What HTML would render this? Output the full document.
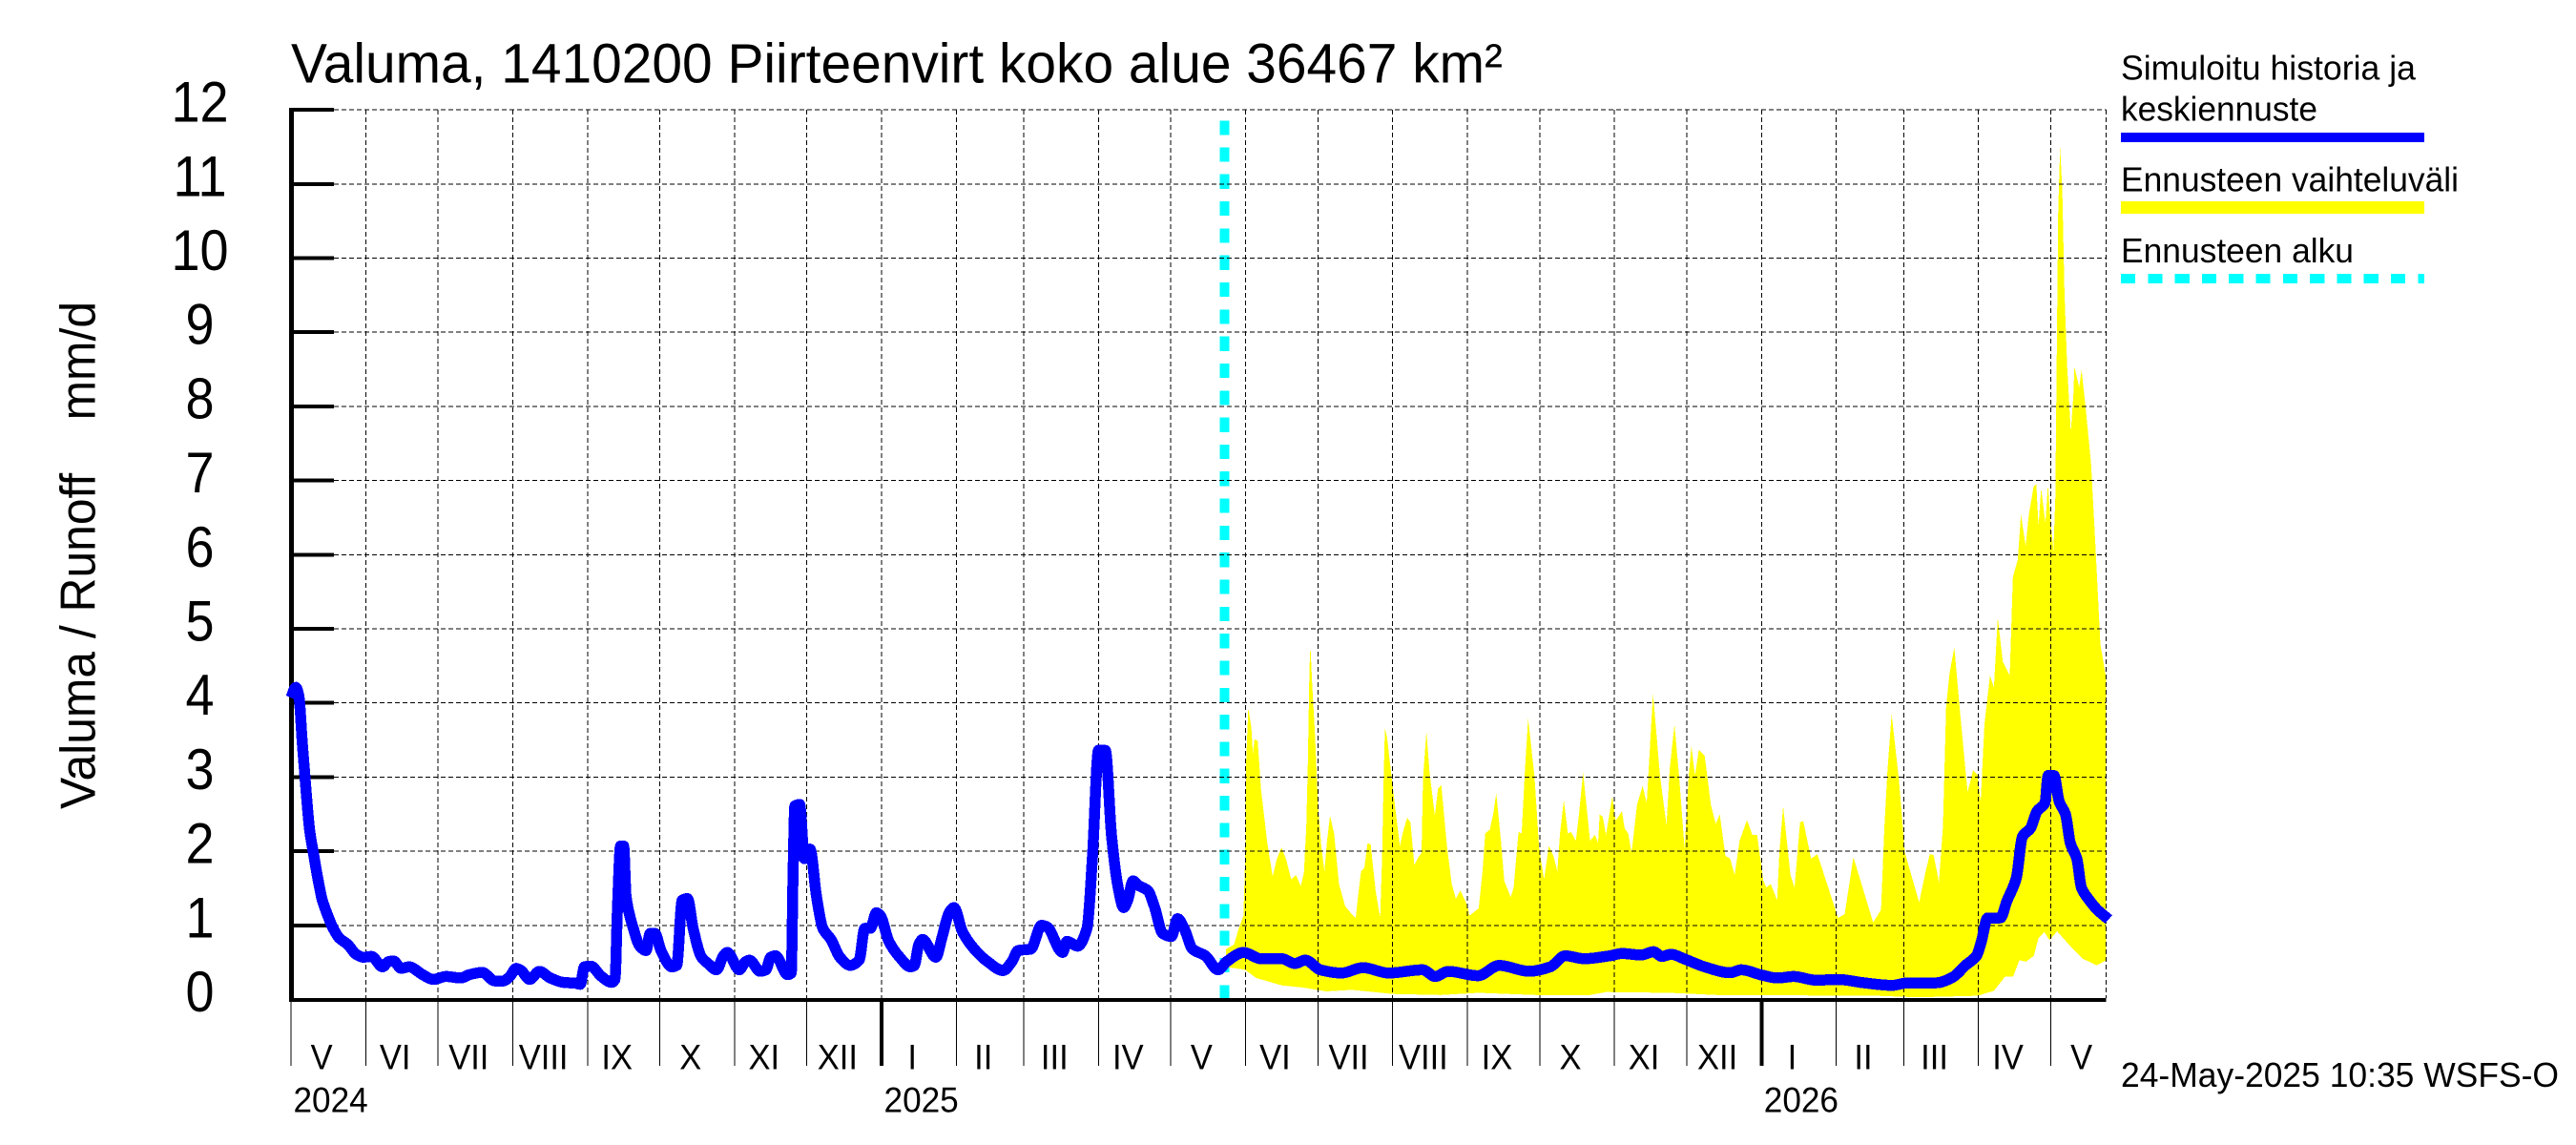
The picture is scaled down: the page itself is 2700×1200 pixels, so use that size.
<!DOCTYPE html>
<html lang="fi">
<head>
<meta charset="utf-8">
<title>Valuma 1410200</title>
<style>
html,body{margin:0;padding:0;background:#fff;width:2700px;height:1200px;overflow:hidden}
svg{display:block}
text{font-family:"Liberation Sans",Arial,sans-serif;fill:#000;white-space:pre}
</style>
</head>
<body>
<svg id="chart" xmlns="http://www.w3.org/2000/svg" width="2700" height="1200" viewBox="0 0 2700 1200">
  <rect x="0" y="0" width="2700" height="1200" fill="#fff"/>
  <text x="305" y="86.7" font-size="58.5" textLength="1270" lengthAdjust="spacingAndGlyphs">Valuma, 1410200 Piirteenvirt koko alue 36467 km²</text>
  <text transform="translate(99.5,848) rotate(-90)" font-size="52" textLength="532" lengthAdjust="spacingAndGlyphs">Valuma / Runoff    mm/d</text>
  <g id="forecast-start-layer"></g>
  <g id="band-layer"></g>
  <g id="grid-layer"></g>
  <g id="axis-layer"></g>
  <g id="line-layer"></g>
  <g>
    <text x="2223" y="83.3" font-size="36.5" textLength="309" lengthAdjust="spacingAndGlyphs">Simuloitu historia ja</text>
    <text x="2223" y="126.7" font-size="36.5" textLength="206" lengthAdjust="spacingAndGlyphs">keskiennuste</text>
    <rect x="2223" y="139" width="318" height="10" fill="#0000ff"/>
    <text x="2223" y="200.7" font-size="36.5" textLength="354" lengthAdjust="spacingAndGlyphs">Ennusteen vaihteluväli</text>
    <rect x="2223" y="211" width="318" height="13" fill="#ffff00"/>
    <text x="2223" y="275" font-size="36.5" textLength="244" lengthAdjust="spacingAndGlyphs">Ennusteen alku</text>
    <line x1="2223" y1="292" x2="2541" y2="292" stroke="#00ffff" stroke-width="10" stroke-dasharray="15.2 13.1" shape-rendering="crispEdges"/>
  </g>
  <text x="2223" y="1139" font-size="36.5" textLength="459" lengthAdjust="spacingAndGlyphs">24-May-2025 10:35 WSFS-O</text>
</svg>
<script>
// ---- chart data (days are counted from 1 May 2024, values in mm/d) ----
const yTickValues = [0,1,2,3,4,5,6,7,8,9,10,11,12];
const monthLabels = ['V','VI','VII','VIII','IX','X','XI','XII','I','II','III','IV','V','VI','VII','VIII','IX','X','XI','XII','I','II','III','IV','V'];
const monthLengths = [31,30,31,31,30,31,30,31,31,28,31,30,31,30,31,31,30,31,30,31,31,28,31,30,31];
const yearLabels = ['2024','2025','2026'];
const yearStartDays = [0,245,610];
const axisEndDay = 753;
const forecastStartDay = 387;

const historyDays = [0,2,3.3,4.7,6.3,7.7,9.5,11.3,13,14.8,17.5,20,23.6,27,30,33.4,38,40.4,42.5,45.7,49,54.6,59,64.3,70.5,74,79.3,84.6,88,90.8,93.4,95.5,99,103,107.6,113,118,120,121.7,124.3,128.8,133,134.4,135.5,136.7,138,139,142,144.7,147.3,149,151,153.5,158,160,162.3,164.5,166.8,170.3,173,176.5,179.4,181,186,188.4,190.2,194.6,197,199,201,206,207.5,208.3,209,211,213,215.3,218,220.6,224,227.7,232,235.7,238,240.4,242.8,244.5,248,252.5,257,258.6,260.4,262,267.5,270,273,275,
278.6,284,289,295.4,299,301.6,306.9,311.3,313.6,320.1,321.9,326.3,330.2,332.5,335,337.8,340.4,343.1,345.4,347.1,349.3,351.4,355.4,358.1,361.6,365.2,367.8,370.5,374,379.3,384.6,388.1,395.2,402.3,411.1,416.4,420.8,427,435.8,444.7,455.3,469.4,474.7,480,492.4,501.2,513.6,522.4,528.6,536.5,547.1,
552.1,560,565.3,568.6,572.5,577.8,586.4,597,601.6,610.1,616.7,623.3,632.6,641.8,652.4,664.2,670.8,682.7,689.3,694.6,699.2,701.2,703.8,709.1,711.7,715.7,718.3,721.6,724.3,727.6,728.9,731.3,733.5,736.1,738.1,740.8,742.7,746,749.3,754];
const historyValues = [4.07,4.21,4.09,3.45,2.80,2.29,1.94,1.60,1.34,1.17,.96,.83,.74,.61,.57,.58,.44,.51,.52,.42,.44,.335,.27,.31,.29,.335,.365,.25,.25,.31,.42,.39,.27,.38,.29,.23,.22,.205,.44,.45,.31,.23,.27,1.30,2.07,2.07,1.39,.96,.72,.66,.89,.89,.66,.44,.46,1.34,1.36,.96,.57,.485,.40,.59,.635,.40,.505,.53,.38,.40,.57,.59,.335,.355,1.73,2.61,2.63,1.90,2.03,1.39,.96,.81,.57,.46,.53,.96,.96,1.17,1.13,.785,.57,.44,.46,.74,.81,.57,.83,1.17,1.24,
.91,.66,.51,.39,.51,.66,.68,1.0,.98,.635,.785,.72,.96,1.94,3.36,3.36,2.20,1.515,1.24,1.34,1.60,1.54,1.47,1.26,.89,.85,1.09,.96,.68,.59,.40,.51,.635,.55,.55,.485,.53,.40,.356,.43,.356,.40,.31,.38,.32,.46,.38,.44,.59,.55,.59,
.62,.60,.645,.58,.61,.55,.44,.36,.40,.33,.29,.31,.26,.27,.225,.19,.225,.225,.30,.46,.59,.78,1.10,1.10,1.32,1.64,2.20,2.31,2.54,2.65,3.02,3.02,2.67,2.50,2.11,1.90,1.51,1.34,1.21,1.08];

const upperDays = [387.9,391.2,393.1,395.1,395.8,396.2,397.1,398.4,399,399.7,401,402.4,405,407.2,409,410.9,412.9,414.9,416.9,418.9,420.2,421.2,421.8,422.5,422.9,423.6,424.8,426.1,427.4,428.7,429.7,431,432.7,434.7,437.3,440,441.7,442.6,443.9,445.2,446.6,447.9,449.9,451.8,452.6,453.2,453.8,454.7,456.5,458.4,460,461.1,463,464.4,466,467.7,469,469.6,471,472.3,474.5,475.8,477.2,479.5,481.5,483.2,485.1,488.1,488.8,492.7,494.3,495.4,497.3,498.7,500,502,503.3,506,507.2,509.2,510.5,511.9,513.2,515.8,517.8,519.8,521.8,523.7,525.3,526.4,528,529.7,531,533,534.3,536,538.9,540.9,542.2,542.9,544.2,545.5,548.1,549.5,552.1,
553.2,554.7,556.1,558.4,560.7,562.4,565,567.9,570.6,571.9,573.9,575.8,578.1,579.8,580.9,582.4,584,586.4,589,591,592.7,595,597,598.9,600.9,604,606.2,608.2,610.8,612.1,613.8,616.5,617.4,619,622,623.7,626,627.3,630.6,633.2,641.8,644.5,648.1,656.3,659.6,661,662.3,664,667,669.5,
675.4,678.1,679.8,681.4,683.6,685.3,686.6,688,690,692.6,695.5,697.8,699.6,700.9,702.5,704.8,706.4,708,710.1,713,714.3,716.3,717.6,719.6,720.9,722.9,724,724.9,726,727.8,728.8,729.9,731.1,731.9,732.5,733.1,733.9,734.8,735.7,736.8,738.3,739.4,739.8,741.8,742.8,744.4,746.7,748.6,750.6,752.6,753];
const upperValues = [.68,.74,.95,1.13,1.90,3.19,3.94,3.66,3.32,3.51,3.49,2.84,2.11,1.66,1.90,2.05,1.88,1.62,1.68,1.53,1.71,2.33,3.19,4.47,4.77,4.26,3.57,2.59,2.07,1.73,2.11,2.48,2.24,1.56,1.26,1.15,1.10,1.38,1.73,1.77,2.11,2.09,1.47,1.10,1.90,2.89,3.66,3.53,3.02,2.50,2.07,2.24,2.45,2.39,1.81,1.92,1.98,2.97,3.62,3.06,2.48,2.84,2.89,2.07,1.56,1.36,1.47,1.26,1.13,1.23,1.73,2.24,2.29,2.50,2.78,2.11,1.60,1.38,1.51,2.26,2.24,3.10,3.79,3.02,2.03,1.62,2.07,1.94,1.73,2.24,2.69,2.24,2.26,2.14,2.50,3.06,2.14,2.22,2.11,2.50,2.46,2.22,2.74,2.41,2.54,
2.31,2.24,1.98,2.63,2.88,2.65,4.13,3.02,2.35,3.10,3.71,3.02,2.03,3.02,3.42,3.02,3.37,3.29,2.63,2.37,2.50,1.94,1.90,1.68,2.14,2.42,2.22,2.22,1.60,1.51,1.56,1.34,1.98,2.61,1.68,1.51,2.39,2.41,1.90,1.96,1.10,1.15,1.92,1.04,1.21,2.33,3.10,3.85,2.97,1.98,
1.31,1.73,1.96,1.95,1.58,2.34,3.95,4.40,4.75,3.79,2.80,3.09,3.03,2.66,3.72,4.37,4.21,5.15,4.56,4.37,5.70,5.93,6.54,6.12,6.54,6.92,6.95,6.39,6.89,6.43,6.94,6.47,6.05,6.77,8.76,10.66,11.5,10.9,9.52,8.53,7.65,8.15,8.53,8.26,8.49,8.0,7.23,6.08,4.79,4.40,4.35];

const lowerDays = [387.9,395.8,400.4,411,420.2,429.4,440,457.1,476.9,492.7,516.5,538.9,545.5,571.9,591.7,657.6,674.8,699.9,706.5,711.1,714.4,717,719.7,723,724.9,727.3,729.5,732.6,738.1,743.4,749,753];
const lowerValues = [.44,.40,.29,.19,.16,.11,.13,.075,.06,.09,.06,.06,.1,.09,.06,.05,.03,.05,.12,.31,.31,.53,.51,.59,.83,.91,.80,.92,.72,.55,.46,.53];

// ---- axis functions ----
function xScale(day){ return 305 + day * 2.5267; }
function yScale(value){ return 1047.5 - value * 77.7; }
const NS = 'http://www.w3.org/2000/svg';
function make(tag, parent){
  const el = document.createElementNS(NS, tag);
  document.getElementById(parent).appendChild(el);
  return el;
}
function setLine(el, x1, y1, x2, y2, stroke, width){
  el.setAttribute('x1', x1);
  el.setAttribute('y1', y1);
  el.setAttribute('x2', x2);
  el.setAttribute('y2', y2);
  el.setAttribute('stroke', stroke);
  el.setAttribute('stroke-width', width);
  el.setAttribute('shape-rendering', 'crispEdges');
}
function narrow(el, factor){
  el.setAttribute('textLength', (el.getComputedTextLength() * factor).toFixed(1));
  el.setAttribute('lengthAdjust', 'spacingAndGlyphs');
}
// monotone cubic path through the data points, so the curve never overshoots a reading
function monotonePath(xs, ys){
  const n = xs.length;
  const dx = [], m = [], t = [];
  for (let i = 0; i < n - 1; i++) {
    dx[i] = xs[i + 1] - xs[i];
    m[i] = (ys[i + 1] - ys[i]) / dx[i];
  }
  t[0] = m[0];
  t[n - 1] = m[n - 2];
  for (let i = 1; i < n - 1; i++) {
    t[i] = (m[i - 1] * m[i] <= 0) ? 0 : 2 * m[i - 1] * m[i] / (m[i - 1] + m[i]);
  }
  let d = 'M' + xs[0].toFixed(1) + ' ' + ys[0].toFixed(1);
  for (let i = 0; i < n - 1; i++) {
    const h = dx[i] / 3;
    d += 'C' + (xs[i] + h).toFixed(1) + ' ' + (ys[i] + t[i] * h).toFixed(1) + ' ' +
         (xs[i + 1] - h).toFixed(1) + ' ' + (ys[i + 1] - t[i + 1] * h).toFixed(1) + ' ' +
         xs[i + 1].toFixed(1) + ' ' + ys[i + 1].toFixed(1);
  }
  return d;
}

const xEnd = xScale(axisEndDay);

// forecast start marker
const startLine = make('line', 'forecast-start-layer');


setLine(startLine, xScale(forecastStartDay) + 0.5, yScale(0), xScale(forecastStartDay) + 0.5, 126.7, '#00ffff', 10);
startLine.setAttribute('stroke-dasharray', '15.2 13.12');

// forecast range band
const bandPoints = [];
upperDays.forEach(function(d, i){ bandPoints.push(xScale(d).toFixed(1) + ',' + yScale(upperValues[i]).toFixed(1)); });
for (let i = lowerDays.length - 1; i >= 0; i--) {
  bandPoints.push(xScale(lowerDays[i]).toFixed(1) + ',' + yScale(lowerValues[i]).toFixed(1));
}
const band = make('polygon', 'band-layer');


band.setAttribute('points', bandPoints.join(' '));
band.setAttribute('fill', '#ffff00');
band.setAttribute('shape-rendering', 'crispEdges');

// horizontal grid, ticks and labels
yTickValues.forEach(function(v){
  const y = yScale(v);
  if (v > 0) {
    const g = make('line', 'grid-layer');
    
    
    setLine(g, 350, y, xEnd, y, '#000', 1);
    g.setAttribute('stroke-dasharray', '5 3');
    const t = make('line', 'axis-layer');
    
    
    setLine(t, 305, y, 350, y, '#000', 4);
  }
  const label = make('text', 'axis-layer');
  
  
  label.setAttribute('x', 209.5);
  label.setAttribute('y', y + 12.5);
  label.setAttribute('font-size', 60);
  label.setAttribute('text-anchor', 'middle');
  label.textContent = String(v);
  narrow(label, 0.9);
});

// month separators and labels
let dayCursor = 0;
monthLabels.forEach(function(name, i){
  const start = dayCursor;
  const len = monthLengths[i];
  dayCursor += len;
  const x = xScale(start);
  if (i > 0) {
    const g = make('line', 'grid-layer');
    
    
    setLine(g, x, 115, x, 1046, '#000', 1);
    g.setAttribute('stroke-dasharray', '5 3');
  }
  const isYear = yearStartDays.indexOf(start) > 0;
  const t = make('line', 'axis-layer');
  
  
  setLine(t, x, 1047, x, 1117, '#000', isYear ? 4 : 1);
  const label = make('text', 'axis-layer');
  
  
  label.setAttribute('x', xScale(start + len / 2) - 7);
  label.setAttribute('y', 1120.5);
  label.setAttribute('font-size', 37.5);
  label.setAttribute('text-anchor', 'middle');
  label.textContent = name;
  narrow(label, 0.92);
});

// right border grid line
const rightEdge = make('line', 'grid-layer');


setLine(rightEdge, xEnd, 115, xEnd, 1046, '#000', 1);
rightEdge.setAttribute('stroke-dasharray', '5 3');

// top border grid line with tick
const topTick = make('line', 'axis-layer');


setLine(topTick, 303, yScale(12), 350, yScale(12), '#000', 4);

// year labels
yearLabels.forEach(function(name, i){
  const label = make('text', 'axis-layer');
  
  
  label.setAttribute('x', xScale(yearStartDays[i]) + 2.5);
  label.setAttribute('y', 1165.7);
  label.setAttribute('font-size', 37);
  label.textContent = name;
  narrow(label, 0.95);
});

// axes
const yAxis = make('line', 'axis-layer');


setLine(yAxis, 305.5, 113, 305.5, 1049.5, '#000', 5);
const xAxis = make('line', 'axis-layer');


setLine(xAxis, 303, 1048, xEnd, 1048, '#000', 4);

// history and mean forecast line
const histLine = make('path', 'line-layer');


histLine.setAttribute('d', monotonePath(historyDays.map(xScale), historyValues.map(yScale)));
histLine.setAttribute('fill', 'none');
histLine.setAttribute('stroke', '#0000ff');
histLine.setAttribute('stroke-width', '11.5');
histLine.setAttribute('stroke-linejoin', 'round');
histLine.setAttribute('stroke-linecap', 'butt');
histLine.setAttribute('shape-rendering', 'crispEdges');
</script>
</body>
</html>
